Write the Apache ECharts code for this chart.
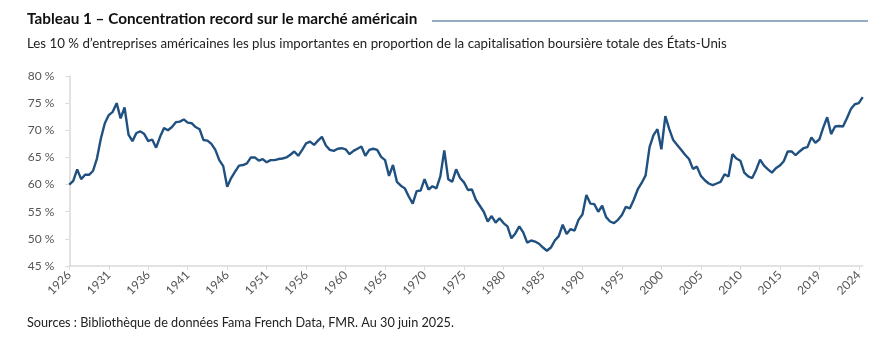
<!DOCTYPE html>
<html>
<head>
<meta charset="utf-8">
<script src="https://cdn.jsdelivr.net/npm/echarts@6/dist/echarts.min.js"></script>
<style>
html,body{margin:0;padding:0;background:#fff;}
#chart{width:893px;height:351px;}
</style>
</head>
<body>
<div id="chart"></div>
<script>
// Tick labels (one every 10 data periods)
const tickLabels = ['1926','1931','1936','1941','1946','1951','1956','1960','1965','1970','1975','1980','1985','1990','1995','2000','2005','2010','2015','2019','2024'];

// Share (%) of total US market cap held by the top 10% of companies
const shareValues = [
  60.0,60.7,62.8,61.0,61.8,61.8,62.5,64.8,68.5,71.3,
  72.8,73.4,75.0,72.2,74.2,69.2,68.0,69.5,69.8,69.3,
  68.0,68.3,66.8,68.8,70.4,70.0,70.6,71.5,71.6,72.0,
  71.4,71.3,70.6,70.2,68.2,68.1,67.5,66.4,64.5,63.4,
  59.6,61.2,62.4,63.5,63.6,63.9,65.0,65.0,64.4,64.7,
  64.1,64.5,64.5,64.7,64.8,65.0,65.5,66.1,65.3,66.4,
  67.6,67.9,67.3,68.1,68.8,67.2,66.4,66.2,66.6,66.7,
  66.5,65.6,66.2,66.6,67.0,65.3,66.4,66.6,66.4,65.1,
  64.5,61.6,63.6,60.5,59.8,59.3,57.8,56.5,58.8,58.9,
  61.0,59.1,59.7,59.3,61.5,66.3,61.0,60.5,62.8,61.2,
  60.4,59.0,59.1,57.2,56.1,55.0,53.2,54.2,53.0,53.8,
  52.9,52.3,50.1,51.0,52.3,51.2,49.3,49.7,49.5,49.1,
  48.4,47.8,48.4,49.7,50.5,52.6,50.9,51.8,51.5,53.5,
  54.5,58.1,56.5,56.4,55.0,56.1,54.0,53.2,52.9,53.5,
  54.4,55.9,55.6,57.2,59.1,60.3,61.7,66.9,69.1,70.2,
  66.5,72.6,70.2,68.2,67.3,66.4,65.5,64.7,62.9,63.3,
  61.6,60.8,60.2,59.9,60.2,60.5,61.9,61.5,65.6,64.8,
  64.4,62.2,61.5,61.2,62.7,64.6,63.5,62.8,62.2,63.0,
  63.5,64.3,66.1,66.1,65.4,66.1,66.7,66.9,68.7,67.7,
  68.3,70.5,72.4,69.3,70.7,70.8,70.7,72.2,73.9,74.8,
  75.0,76.1
];

const titleText = 'Tableau 1 – Concentration record sur le marché américain';
const subtitleText = 'Les 10 % d’entreprises américaines les plus importantes en proportion de la capitalisation boursière totale des États-Unis';
const sourceText = 'Sources : Bibliothèque de données Fama French Data, FMR. Au 30 juin 2025.';

const periodsPerTick = 10;
const categories = shareValues.map((_, i) =>
  i % periodsPerTick === 0 ? tickLabels[i / periodsPerTick]
                           : tickLabels[Math.floor(i / periodsPerTick)] + '.' + (i % periodsPerTick));

const FONT = 'Lato, "Noto Sans", sans-serif';
const chart = echarts.init(document.getElementById('chart'), null, {renderer: 'canvas'});
chart.setOption({
  animation: false,
  backgroundColor: '#ffffff',
  graphic: [
    {type: 'text', left: 27, top: 12, style: {text: titleText, font: 'bold 15.3px ' + FONT, fill: '#111'}},
    {type: 'line', shape: {x1: 432, y1: 21, x2: 868, y2: 21}, style: {stroke: '#2a5a8a', lineWidth: 1.2}},
    {type: 'text', left: 27, top: 37, style: {text: subtitleText, font: '13.3px ' + FONT, fill: '#222'}},
    {type: 'text', left: 27, top: 316, style: {text: sourceText, font: '12.7px ' + FONT, fill: '#222'}}
  ],
  grid: {left: 69.3, right: 30.3, top: 76, bottom: 85, containLabel: false},
  xAxis: {
    type: 'category',
    data: categories,
    boundaryGap: false,
    axisLine: {lineStyle: {color: '#dadada', width: 1.5}},
    axisTick: {interval: periodsPerTick - 1, length: 4, lineStyle: {color: '#dadada', width: 1}},
    axisLabel: {interval: periodsPerTick - 1, rotate: 45, margin: 7, color: '#555', fontFamily: FONT, fontSize: 12},
    splitLine: {show: false}
  },
  yAxis: {
    type: 'value',
    min: 45, max: 80, interval: 5,
    axisLine: {show: true, lineStyle: {color: '#dadada', width: 1.5}},
    axisTick: {show: true, length: 4, lineStyle: {color: '#dadada'}},
    axisLabel: {margin: 15, color: '#555', fontFamily: FONT, fontSize: 12, formatter: v => v + ' %'},
    splitLine: {show: false}
  },
  series: [{
    type: 'line',
    data: shareValues,
    showSymbol: false,
    smooth: false,
    lineStyle: {color: '#1f5080', width: 2.4},
    itemStyle: {color: '#1f5080'}
  }]
});
</script>
</body>
</html>
